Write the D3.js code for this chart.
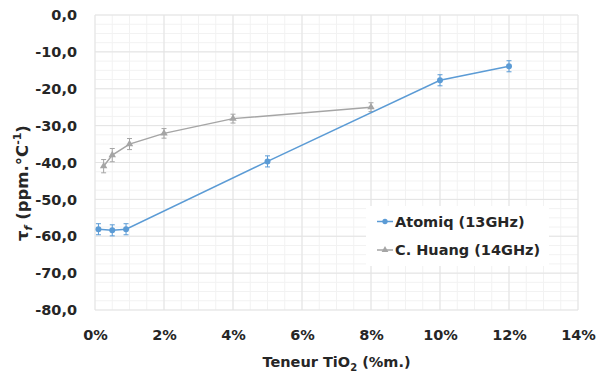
<!DOCTYPE html>
<html><head><meta charset="utf-8">
<script src="https://cdn.jsdelivr.net/npm/d3@7"></script>
<style>
body{margin:0;background:#fff;}
text{font-family:"DejaVu Sans",sans-serif;font-weight:bold;fill:#262626;}
</style></head>
<body><svg id="c" width="598" height="376"></svg>
<script>
const seriesNames = ["Atomiq (13GHz)", "C. Huang (14GHz)"];
const atomiqX = [0.1, 0.5, 0.9, 5, 10, 12];
const atomiqY = [-58.1, -58.4, -58.1, -39.7, -17.7, -13.9];
const atomiqErr = [1.5, 1.5, 1.5, 1.5, 1.5, 1.5];
const huangX = [0.25, 0.5, 1, 2, 4, 8];
const huangY = [-41.0, -38.0, -35.0, -32.1, -28.1, -25.0];
const huangErr = [1.8, 1.8, 1.5, 1.3, 1.2, 1.2];
const xTicks = [0, 2, 4, 6, 8, 10, 12, 14];
const yTicks = [0, -10, -20, -30, -40, -50, -60, -70, -80];
const colors = ["#5B9BD5", "#A5A5A5"];

const svg = d3.select("#c");
const L = 95, R = 578, T = 15, B = 310;
const x = d3.scaleLinear().domain([0, 14]).range([L, R]);
const y = d3.scaleLinear().domain([-80, 0]).range([B, T]);

// minor grid
const g = svg.append("g");
g.selectAll("line.mx").data(d3.range(0, 14.01, 0.5)).join("line")
  .attr("x1", d => x(d)).attr("x2", d => x(d)).attr("y1", T).attr("y2", B)
  .attr("stroke", "#f2f2f2").attr("stroke-width", 1);
g.selectAll("line.my").data(d3.range(-80, 0.01, 2.5)).join("line")
  .attr("y1", d => y(d)).attr("y2", d => y(d)).attr("x1", L).attr("x2", R)
  .attr("stroke", "#f2f2f2").attr("stroke-width", 1);
// major grid
g.selectAll("line.Mx").data(xTicks).join("line")
  .attr("x1", d => x(d)).attr("x2", d => x(d)).attr("y1", T).attr("y2", B)
  .attr("stroke", "#e3e3e3").attr("stroke-width", 1);
g.selectAll("line.My").data(yTicks).join("line")
  .attr("y1", d => y(d)).attr("y2", d => y(d)).attr("x1", L).attr("x2", R)
  .attr("stroke", "#e3e3e3").attr("stroke-width", 1);

// axes labels
const fmtY = d => d3.format(".1f")(d).replace(".", ",").replace("−", "-");
const yAxis = d3.axisLeft(y).tickValues(yTicks).tickSize(0).tickPadding(18).tickFormat(fmtY);
const ya = svg.append("g").attr("transform", `translate(${L},0)`).call(yAxis);
ya.select(".domain").remove();
ya.selectAll("text").attr("font-size", "14.5px").attr("font-family", "DejaVu Sans").attr("font-weight", "bold").attr("fill", "#262626");

const xAxis = d3.axisBottom(x).tickValues(xTicks).tickSize(0).tickPadding(20).tickFormat(d => d + "%");
const xa = svg.append("g").attr("transform", `translate(0,${B})`).call(xAxis);
xa.select(".domain").remove();
xa.selectAll("text").attr("font-size", "14.5px").attr("font-family", "DejaVu Sans").attr("font-weight", "bold").attr("fill", "#262626");

// axis titles
const xt = svg.append("text").attr("x", (L + R) / 2).attr("y", 367).attr("text-anchor", "middle").attr("font-size", "14.5px");
xt.append("tspan").text("Teneur TiO");
xt.append("tspan").attr("font-size", "10px").attr("dy", 4).text("2");
xt.append("tspan").attr("dy", -4).text(" (%m.)");

const yt = svg.append("text").attr("transform", "translate(28,183) rotate(-90)").attr("text-anchor", "middle").attr("font-size", "16.5px");
yt.append("tspan").text("τ");
yt.append("tspan").attr("font-size", "11px").attr("dy", 4).attr("font-style", "italic").text("f");
yt.append("tspan").attr("dy", -4).text(" (ppm.°C");
yt.append("tspan").attr("font-size", "11px").attr("dy", -7).text("-1");
yt.append("tspan").attr("dy", 7).text(")");

// series
const series = [
  {name: seriesNames[0], xs: atomiqX, ys: atomiqY, es: atomiqErr, color: colors[0], marker: "circle"},
  {name: seriesNames[1], xs: huangX, ys: huangY, es: huangErr, color: colors[1], marker: "triangle"}
];
const line = d3.line().x(d => x(d[0])).y(d => y(d[1]));
series.slice().reverse().forEach(s => {
  const pts = s.xs.map((v, i) => [v, s.ys[i], s.es[i]]);
  const sg = svg.append("g");
  sg.append("path").datum(pts).attr("d", line).attr("fill", "none").attr("stroke", s.color).attr("stroke-width", 1.5);
  pts.forEach(p => {
    const px = x(p[0]), y1 = y(p[1] + p[2]), y2 = y(p[1] - p[2]);
    sg.append("line").attr("x1", px).attr("x2", px).attr("y1", y1).attr("y2", y2).attr("stroke", s.color).attr("stroke-width", 1);
    sg.append("line").attr("x1", px - 2.5).attr("x2", px + 2.5).attr("y1", y1).attr("y2", y1).attr("stroke", s.color).attr("stroke-width", 1);
    sg.append("line").attr("x1", px - 2.5).attr("x2", px + 2.5).attr("y1", y2).attr("y2", y2).attr("stroke", s.color).attr("stroke-width", 1);
    sg.append("path").attr("transform", `translate(${px},${y(p[1])})`)
      .attr("d", d3.symbol().type(s.marker === "circle" ? d3.symbolCircle : d3.symbolTriangle).size(s.marker === "circle" ? 28 : 24)())
      .attr("fill", s.color);
  });
});

// legend
const lg = svg.append("g");
lg.append("rect").attr("x", 366).attr("y", 206).attr("width", 183).attr("height", 60).attr("fill", "#fff");
series.forEach((s, i) => {
  const ly = 221.5 + i * 28.5;
  lg.append("line").attr("x1", 377).attr("x2", 393).attr("y1", ly).attr("y2", ly).attr("stroke", s.color).attr("stroke-width", 1.5);
  lg.append("path").attr("transform", `translate(385,${ly})`)
    .attr("d", d3.symbol().type(s.marker === "circle" ? d3.symbolCircle : d3.symbolTriangle).size(s.marker === "circle" ? 22 : 20)())
    .attr("fill", s.color);
  lg.append("text").attr("x", 395).attr("y", ly + 5).attr("font-size", "14.5px").text(s.name);
});
</script></body></html>
